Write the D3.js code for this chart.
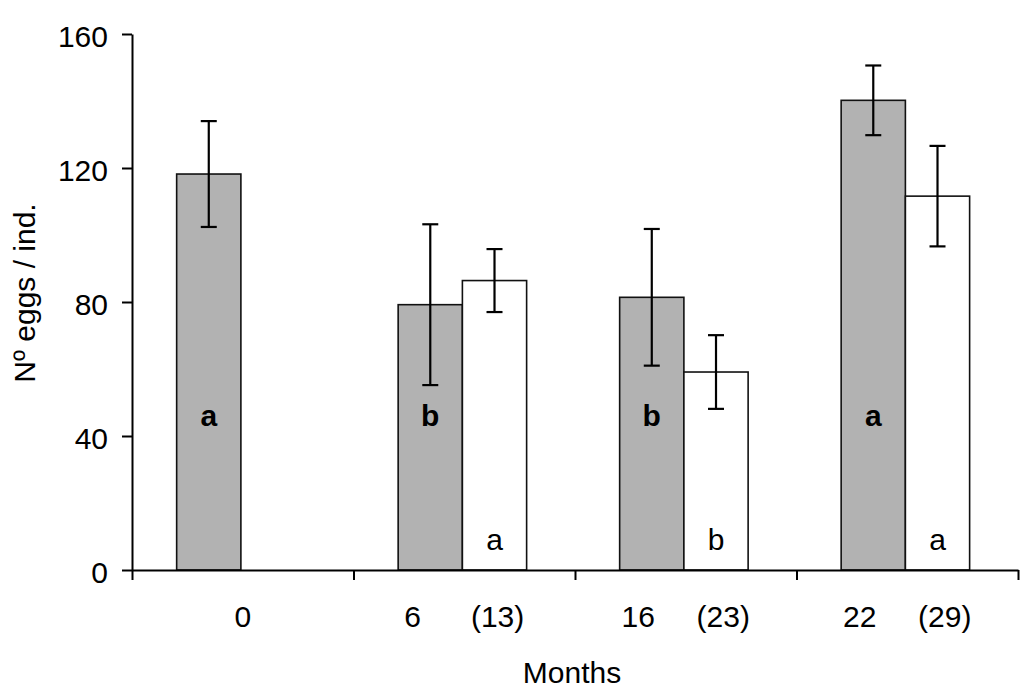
<!DOCTYPE html>
<html>
<head>
<meta charset="utf-8">
<script src="https://cdn.jsdelivr.net/npm/d3@7"></script>
<style>
  body { margin: 0; background: #fff; }
  text { font-family: "Liberation Sans", Arial, sans-serif; fill: #000; }
</style>
</head>
<body>
<div id="chart"></div>
<script>

var width = 1024,
    height = 691;

// data
var months = ["0", "6", "16", "22"];
var xLabels = ["0", "6      (13)", "16     (23)", "22     (29)"];
var series = ["grey", "white"];
var greyMean = [118.2, 79.2, 81.4, 140.2];
var greyErr = [15.8, 24.0, 20.4, 10.4];
var whiteMean = [null, 86.4, 59.1, 111.6];
var whiteErr = [null, 9.4, 11.0, 15.0];
var greyLetters = ["a", "b", "b", "a"];
var whiteLetters = [null, "a", "b", "a"];
var yTicks = [0, 40, 80, 120, 160];

var plotLeft = 132, plotRight = 1018, plotTop = 34, plotBottom = 570;

var svg = d3.select("#chart").append("svg")
.attr("width", width)
.attr("height", height);

var y = d3.scaleLinear()
.domain([0, 160])
.range([plotBottom, plotTop]);

var x0 = d3.scaleBand()
.domain(months)
.range([plotLeft, plotRight])
.paddingInner(0.42)
.paddingOuter(0.21)
.align(0.48);

var x1 = d3.scaleBand()
.domain(series)
.range([0, x0.bandwidth()]);

// category boundaries for the x ticks
var xEdge = d3.scaleLinear()
.domain([0, months.length])
.range([plotLeft, plotRight]);

// build rows from the arrays
var rows = [];
months.forEach(function(m, i){
  rows.push({month: m, s: "grey", v: greyMean[i], e: greyErr[i], l: greyLetters[i]});
  if (whiteMean[i] != null)
    rows.push({month: m, s: "white", v: whiteMean[i], e: whiteErr[i], l: whiteLetters[i]});
});

var g = svg.append("g");

// bars
g.selectAll("rect.bar")
.data(rows)
.enter().append("rect")
.attr("class", "bar")
.attr("x", function(d){ return x0(d.month) + x1(d.s); })
.attr("width", x1.bandwidth())
.attr("y", function(d){ return y(d.v); })
.attr("height", function(d){ return y(0) - y(d.v); })
.style("fill", function(d){ return d.s == "grey" ? "#b2b2b2" : "#ffffff"; })
.style("stroke", "#111")
.style("stroke-width", 1.6);

// error bars
var err = g.selectAll("g.err")
.data(rows)
.enter().append("g")
.attr("class", "err")
.attr("transform", function(d){
  return "translate(" + (x0(d.month) + x1(d.s) + x1.bandwidth() / 2) + ",0)";
})
.style("stroke", "#000")
.style("stroke-width", 2.2);

err.append("line")
.attr("x1", 0).attr("x2", 0)
.attr("y1", function(d){ return y(d.v + d.e); })
.attr("y2", function(d){ return y(d.v - d.e); });

err.append("line")
.attr("x1", -8).attr("x2", 8)
.attr("y1", function(d){ return y(d.v + d.e); })
.attr("y2", function(d){ return y(d.v + d.e); });

err.append("line")
.attr("x1", -8).attr("x2", 8)
.attr("y1", function(d){ return y(d.v - d.e); })
.attr("y2", function(d){ return y(d.v - d.e); });

// significance letters
g.selectAll("text.letter")
.data(rows)
.enter().append("text")
.attr("class", "letter")
.attr("x", function(d){ return x0(d.month) + x1(d.s) + x1.bandwidth() / 2; })
.attr("y", function(d){ return d.s == "grey" ? y(43) : y(6); })
.attr("text-anchor", "middle")
.style("font-size", "30px")
.style("font-weight", function(d){ return d.s == "grey" ? "bold" : "normal"; })
.text(function(d){ return d.l; });

// y axis
var yAxis = svg.append("g")
.attr("transform", "translate(" + plotLeft + ",0)")
.call(d3.axisLeft(y).tickValues(yTicks).tickSize(10).tickSizeOuter(0).tickPadding(14));

yAxis.selectAll("text")
.attr("dy", "0.4em")
.style("font-size", "30px");

// x axis
var xAxis = svg.append("g")
.attr("transform", "translate(0," + plotBottom + ")")
.call(d3.axisBottom(xEdge).ticks(months.length).tickFormat("").tickSize(10).tickSizeOuter(0));

svg.selectAll(".domain, .tick line")
.style("stroke", "#000")
.style("stroke-width", 2);

// category labels
svg.selectAll("text.xlab")
.data(months)
.enter().append("text")
.attr("class", "xlab")
.attr("x", function(d){ return xEdge(months.indexOf(d) + 0.5); })
.attr("y", 627)
.attr("text-anchor", "middle")
.style("font-size", "30px")
.style("white-space", "pre")
.text(function(d, i){ return xLabels[i]; });

// axis titles
svg.append("text")
.attr("x", (plotLeft + plotRight) / 2 - 3)
.attr("y", 683)
.attr("text-anchor", "middle")
.style("font-size", "30px")
.text("Months");

svg.append("text")
.attr("transform", "translate(35,293) rotate(-90)")
.attr("text-anchor", "middle")
.style("font-size", "30px")
.text("Nº eggs / ind.");

</script>
</body>
</html>
